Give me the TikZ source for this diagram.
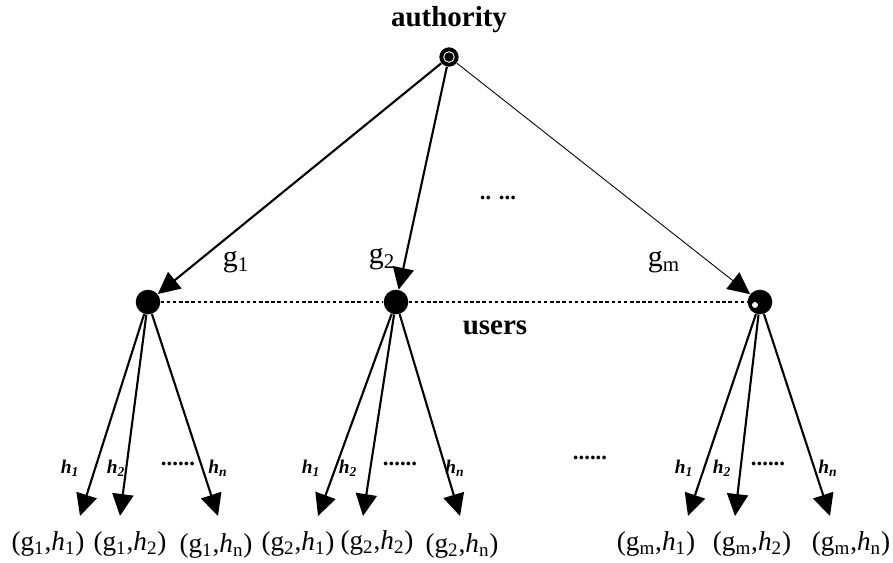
\documentclass[tikz,border=0pt]{standalone}
\usepackage{fontspec}
\setmainfont{Liberation Serif}
\usetikzlibrary{arrows.meta}
\begin{document}
\begin{tikzpicture}[x=0.02cm,y=-0.02cm,
  dot/.style={circle,fill=black,inner sep=0pt,minimum size=14pt},
  adot/.style={circle,fill=black,inner sep=0pt,minimum size=11pt},
  arr/.style={line width=1.2pt,-{Triangle[length=12.5pt,width=12pt]}},
  tarr/.style={line width=0.5pt,-{Triangle[length=12.5pt,width=12pt]}},
  btxt/.style={font=\fontsize{16.5}{18}\selectfont\bfseries,inner sep=0pt},
  gtxt/.style={font=\fontsize{17}{19}\selectfont,inner sep=0pt},
  htxt/.style={font=\fontsize{11}{12}\selectfont\bfseries\itshape,inner sep=0pt},
  dtxt/.style={font=\fontsize{13}{13}\selectfont\bfseries,inner sep=0pt},
  leaf/.style={font=\fontsize{15.5}{17}\selectfont,inner sep=0pt},
  ulink/.style={line width=1.1pt,dash pattern=on 2pt off 1.5pt}]
\useasboundingbox (0,0) rectangle (893,562);
% authority
\node[btxt] (authlabel) at (449,20) {authority};
\node[adot] (auth) at (449,57) {};
\draw[white,line width=0.5pt] (auth.center) circle (3pt);
% users
\node[dot] (u1) at (148,302) {};
\node[dot] (u2) at (396,302) {};
\node[dot] (um) at (760,302) {};
\fill[white] (um.center)++(-5,3) circle (1.7pt);
% authority to users
\draw[arr] (auth) -- (u1);
\draw[arr] (auth) -- (u2);
\draw[tarr] (auth) -- (um);
\node[gtxt] (g1) at (236,262) {g\textsubscript{1}};
\node[gtxt] (g2) at (382,259) {g\textsubscript{2}};
\node[gtxt] (gm) at (664,262) {g\textsubscript{m}};
\node[dtxt] (dots1) at (498,198) {.. ...};
% user link
\draw[ulink] (u1) -- (u2);
\draw[ulink] (u2) -- (um);
\node[btxt] (users) at (495,328) {users};
% leaf arrow ends
\foreach \nm/\x in {a1/80,a2/120,an/218,b1/318,b2/363,bn/460,c1/688,c2/735,cn/830}{
  \coordinate (e\nm) at (\x,516);
}
\draw[arr] (u1) -- (ea1);
\draw[arr] (u1) -- (ea2);
\draw[arr] (u1) -- (ean);
\draw[arr] (u2) -- (eb1);
\draw[arr] (u2) -- (eb2);
\draw[arr] (u2) -- (ebn);
\draw[arr] (um) -- (ec1);
\draw[arr] (um) -- (ec2);
\draw[arr] (um) -- (ecn);
% h labels
\node[htxt] (ha1) at (70,468) {h\textsubscript{1}};
\node[htxt] (ha2) at (116,468) {h\textsubscript{2}};
\node[dtxt] (hda) at (178,464) {......};
\node[htxt] (han) at (218,468) {h\textsubscript{n}};
\node[htxt] (hb1) at (311,468) {h\textsubscript{1}};
\node[htxt] (hb2) at (348,468) {h\textsubscript{2}};
\node[dtxt] (hdb) at (400,464) {......};
\node[htxt] (hbn) at (455,468) {h\textsubscript{n}};
\node[dtxt] (hmid) at (590,458) {......};
\node[htxt] (hc1) at (684,468) {h\textsubscript{1}};
\node[htxt] (hc2) at (722,468) {h\textsubscript{2}};
\node[dtxt] (hdc) at (768,464) {......};
\node[htxt] (hcn) at (828,468) {h\textsubscript{n}};
% leaf labels
\node[leaf] (la1) at (48,544) {(g\textsubscript{1},\textit{h}\textsubscript{1})};
\node[leaf] (la2) at (130,544) {(g\textsubscript{1},\textit{h}\textsubscript{2})};
\node[leaf] (lan) at (216,546) {(g\textsubscript{1},\textit{h}\textsubscript{n})};
\node[leaf] (lb1) at (298,544) {(g\textsubscript{2},\textit{h}\textsubscript{1})};
\node[leaf] (lb2) at (377,543) {(g\textsubscript{2},\textit{h}\textsubscript{2})};
\node[leaf] (lbn) at (462,546) {(g\textsubscript{2},\textit{h}\textsubscript{n})};
\node[leaf] (lc1) at (656,544) {(g\textsubscript{m},\textit{h}\textsubscript{1})};
\node[leaf] (lc2) at (752,544) {(g\textsubscript{m},\textit{h}\textsubscript{2})};
\node[leaf] (lcn) at (851,544) {(g\textsubscript{m},\textit{h}\textsubscript{n})};
\end{tikzpicture}
\end{document}
